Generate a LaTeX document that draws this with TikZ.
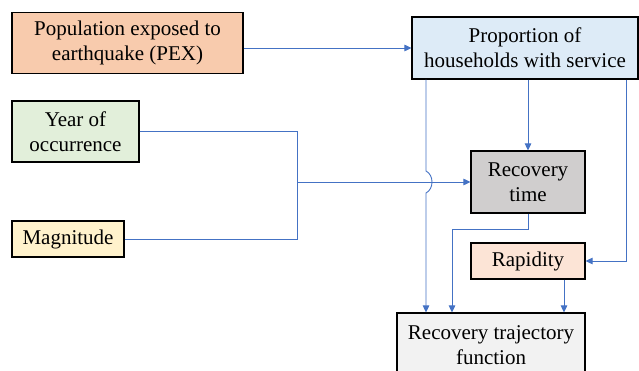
\documentclass[tikz,border=0pt]{standalone}
\usepackage{fontspec}
\newfontfamily\fa{Liberation Serif}
\newfontfamily\fb{DejaVu Serif}
\usetikzlibrary{arrows.meta}
\definecolor{cpex}{HTML}{F8CBAD}
\definecolor{cyear}{HTML}{E2EFDA}
\definecolor{cmag}{HTML}{FFF2CC}
\definecolor{cprop}{HTML}{DDEBF7}
\definecolor{crt}{HTML}{D0CECE}
\definecolor{crap}{HTML}{FCE4D6}
\definecolor{ctraj}{HTML}{F2F2F2}
\definecolor{cline}{HTML}{4472C4}
\tikzset{
  box/.style={draw=black, line width=1.1pt, inner sep=0pt, align=center,
    font=\fontsize{21}{25}\selectfont},
  conn/.style={draw=cline, line width=0.9pt},
  arr/.style={conn, -{Triangle[length=7pt,width=6.5pt]}}
}
\begin{document}
\begin{tikzpicture}[x=1pt,y=-1pt]
\useasboundingbox (0,0) rectangle (639,371);
\node[box, fill=cpex, minimum width=231pt, minimum height=61pt] (pex) at (127.5,43) {\fa Population exposed to\\\fa earthquake (PEX)};
\node[box, fill=cyear, minimum width=127pt, minimum height=61pt] (year) at (75.5,131.5) {\fa Year of\\\fa occurrence};
\node[box, fill=cmag, minimum width=112pt, minimum height=36pt] (mag) at (68,239) {\fa Magnitude};
\node[box, fill=cprop, minimum width=226pt, minimum height=62pt] (prop) at (525,48) {\fa Proportion of\\\fa households with service};
\node[box, fill=crt, minimum width=114pt, minimum height=62pt] (rt) at (528,182) {\fa Recovery\\\fa time};
\node[box, fill=crap, minimum width=114pt, minimum height=36pt] (rap) at (528,261) {\fa Rapidity};
\node[box, fill=ctraj, minimum width=188pt, minimum height=64pt] (traj) at (491,345) {\fa Recovery trajectory\\\fa function};
% connectors
\draw[arr] (prop.west -| pex.east) -- (prop.west);
\coordinate (jx) at (297,182);
\draw[conn] (year.east) -| (jx);
\draw[conn] (mag.east) -| (jx);
\draw[arr] (jx) -- (rt.west);
\coordinate (h1) at (426,171);
\coordinate (h2) at (426,193);
\draw[arr] (prop.south -| h1) -- (h1) .. controls (434,175) and (434,189) .. (h2) -- (traj.north -| h2);
\draw[arr] (rt.north |- prop.south) -- (rt.north);
\coordinate (c3) at (626,261);
\draw[arr] (prop.south -| c3) |- (rap.east);
\coordinate (c4) at (452,229);
\draw[arr] (rt.south) |- (c4) -- (traj.north -| c4);
\coordinate (c5) at (564,300);
\draw[arr] (rap.south -| c5) -- (traj.north -| c5);
\end{tikzpicture}
\end{document}
